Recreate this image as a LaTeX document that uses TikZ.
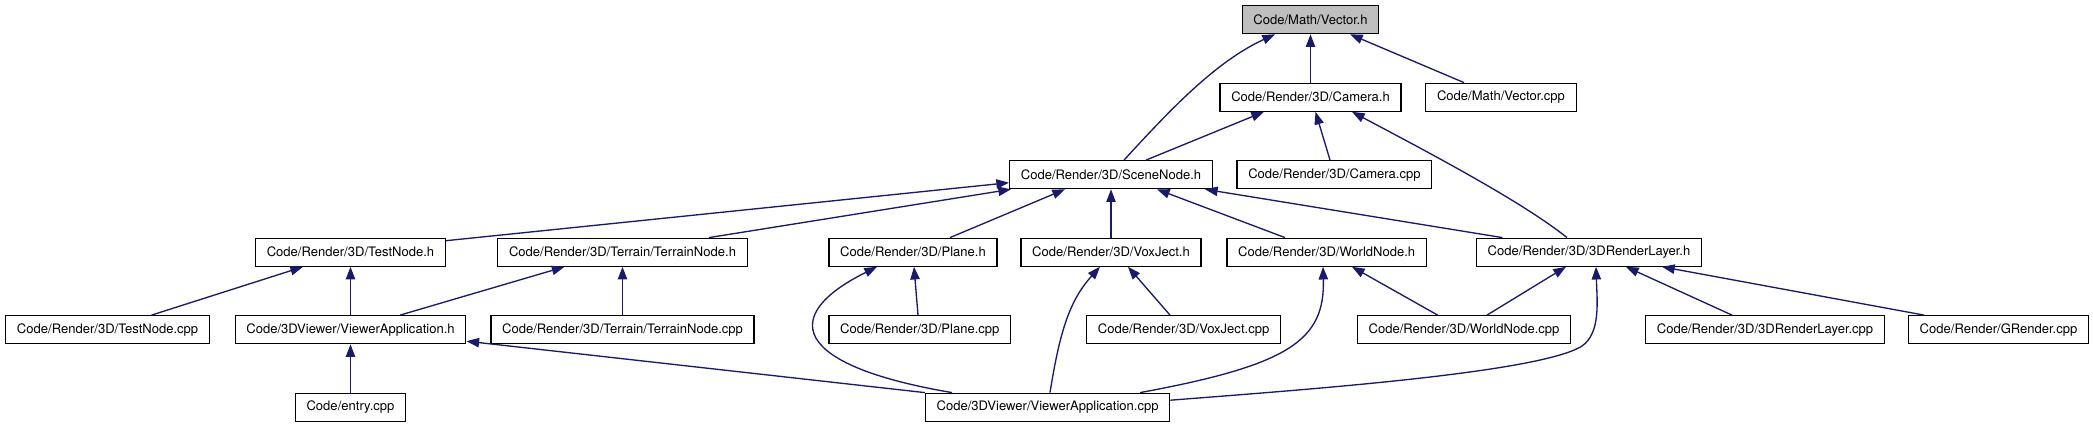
\documentclass[tikz,border=0pt]{standalone}
\usepackage{fontspec}
\setmainfont{TeX Gyre Heros}
\usetikzlibrary{arrows.meta}

\definecolor{depblue}{RGB}{25,25,112}
\definecolor{boxgray}{RGB}{191,191,191}

\begin{document}
\begin{tikzpicture}[x=0.75pt, y=-0.75pt,
		srcbox/.style={draw=black, fill=white, line width=0.9pt, minimum height=21pt,
			inner xsep=8.4pt, inner ysep=0pt, font=\fontsize{9.78}{11}\selectfont},
		dep/.style={draw=depblue, line width=1pt, -{Triangle[length=9.5pt, width=7pt]}}]
		\useasboundingbox (0,0) rectangle (2093,427);

		% files, one row per rank
		\node [srcbox, fill=boxgray] (vech) at (1310.5,19.7) {Code/Math/Vector.h};

		\node [srcbox] (camh) at (1310.5,97.2) {Code/Render/3D/Camera.h};
		\node [srcbox] (veccpp) at (1501,97.2) {Code/Math/Vector.cpp};

		\node [srcbox] (sceneh) at (1111,174.7) {Code/Render/3D/SceneNode.h};
		\node [srcbox] (camcpp) at (1334.4,174.7) {Code/Render/3D/Camera.cpp};

		\node [srcbox] (testh) at (350.5,252.2) {Code/Render/3D/TestNode.h};
		\node [srcbox] (terrh) at (622.5,252.2) {Code/Render/3D/Terrain/TerrainNode.h};
		\node [srcbox] (planeh) at (913,252.2) {Code/Render/3D/Plane.h};
		\node [srcbox] (voxh) at (1111,252.2) {Code/Render/3D/VoxJect.h};
		\node [srcbox] (worldh) at (1326.7,252.2) {Code/Render/3D/WorldNode.h};
		\node [srcbox] (rlayh) at (1589,252.2) {Code/Render/3D/3DRenderLayer.h};

		\node [srcbox] (testcpp) at (107.6,329.7) {Code/Render/3D/TestNode.cpp};
		\node [srcbox] (viewh) at (350.5,329.7) {Code/3DViewer/ViewerApplication.h};
		\node [srcbox] (terrcpp) at (622.5,329.7) {Code/Render/3D/Terrain/TerrainNode.cpp};
		\node [srcbox] (planecpp) at (919.8,329.7) {Code/Render/3D/Plane.cpp};
		\node [srcbox] (voxcpp) at (1183.6,329.7) {Code/Render/3D/VoxJect.cpp};
		\node [srcbox] (worldcpp) at (1464,329.7) {Code/Render/3D/WorldNode.cpp};
		\node [srcbox] (rlaycpp) at (1765,329.7) {Code/Render/3D/3DRenderLayer.cpp};
		\node [srcbox] (grcpp) at (1998.5,329.7) {Code/Render/GRender.cpp};

		\node [srcbox] (entrycpp) at (350.5,407.2) {Code/entry.cpp};
		\node [srcbox] (viewcpp) at (1047.6,407.2) {Code/3DViewer/ViewerApplication.cpp};

		% Vector.h
		\draw [dep] ([shift={(13,0)}]sceneh.north) .. controls (1170,110) and (1215,62) .. ([shift={(-35.5,0)}]vech.south);
		\draw [dep] (camh.north) -- (vech.south);
		\draw [dep] ([shift={(-37,0)}]veccpp.north) -- ([shift={(39.5,0)}]vech.south);

		% Camera.h
		\draw [dep] ([shift={(35,0)}]sceneh.north) -- ([shift={(-46.5,0)}]camh.south);
		\draw [dep] ([shift={(-4.4,0)}]camcpp.north) -- ([shift={(5,0)}]camh.south);
		\draw [dep] ([shift={(-22,0)}]rlayh.north) .. controls (1520,200) and (1420,148) .. ([shift={(41.5,0)}]camh.south);

		% SceneNode.h
		\draw [dep] ([shift={(0,-11.5)}]testh.east) -- ([shift={(0,8)}]sceneh.west);
		\draw [dep] ([shift={(86.5,0)}]terrh.north) -- ([shift={(2,0)}]sceneh.south west);
		\draw [dep] ([shift={(37,0)}]planeh.north) -- ([shift={(-46,0)}]sceneh.south);
		\draw [dep] (voxh.north) -- (sceneh.south);
		\draw [dep] ([shift={(-41.7,0)}]worldh.north) -- ([shift={(46,0)}]sceneh.south);
		\draw [dep] ([shift={(-86.6,0)}]rlayh.north) -- ([shift={(-8,0)}]sceneh.south east);

		% TestNode.h and TerrainNode.h
		\draw [dep] ([shift={(44,0)}]testcpp.north) -- ([shift={(-47.5,0)}]testh.south);
		\draw [dep] (viewh.north) -- (testh.south);
		\draw [dep] ([shift={(49.6,0)}]viewh.north) -- ([shift={(-58,0)}]terrh.south);
		\draw [dep] (terrcpp.north) -- (terrh.south);

		% Plane.h and VoxJect.h
		\draw [dep] ([shift={(-1.8,0)}]planecpp.north) -- ([shift={(1,0)}]planeh.south);
		\draw [dep] ([shift={(-95.6,0)}]viewcpp.north) .. controls (790,365) and (780,315) .. ([shift={(-36,0)}]planeh.south);
		\draw [dep] ([shift={(2.4,0)}]viewcpp.north) .. controls (1060,330) and (1070,300) .. ([shift={(-11,0)}]voxh.south);
		\draw [dep] ([shift={(-13.6,0)}]voxcpp.north) -- ([shift={(17,0)}]voxh.south);

		% WorldNode.h and 3DRenderLayer.h
		\draw [dep] ([shift={(92.4,0)}]viewcpp.north) .. controls (1290,365) and (1325,340) .. ([shift={(-3.7,0)}]worldh.south);
		\draw [dep] ([shift={(-26.4,0)}]worldcpp.north) -- ([shift={(25.3,0)}]worldh.south);
		\draw [dep] ([shift={(23,0)}]worldcpp.north) -- ([shift={(-23,0)}]rlayh.south);
		\draw [dep] ([shift={(0,-7)}]viewcpp.east) .. controls (1300,390) and (1540,373) .. (1582,346) .. controls (1601,333) and (1597,300) .. ([shift={(7,0)}]rlayh.south);
		\draw [dep] ([shift={(-33,0)}]rlaycpp.north) -- ([shift={(37,0)}]rlayh.south);
		\draw [dep] ([shift={(-74.5,0)}]grcpp.north) -- ([shift={(73,0)}]rlayh.south);

		% ViewerApplication.h
		\draw [dep] (entrycpp.north) -- (viewh.south);
		\draw [dep] (viewcpp.north west) -- ([shift={(0,11.5)}]viewh.east);
	\end{tikzpicture}
\end{document}
